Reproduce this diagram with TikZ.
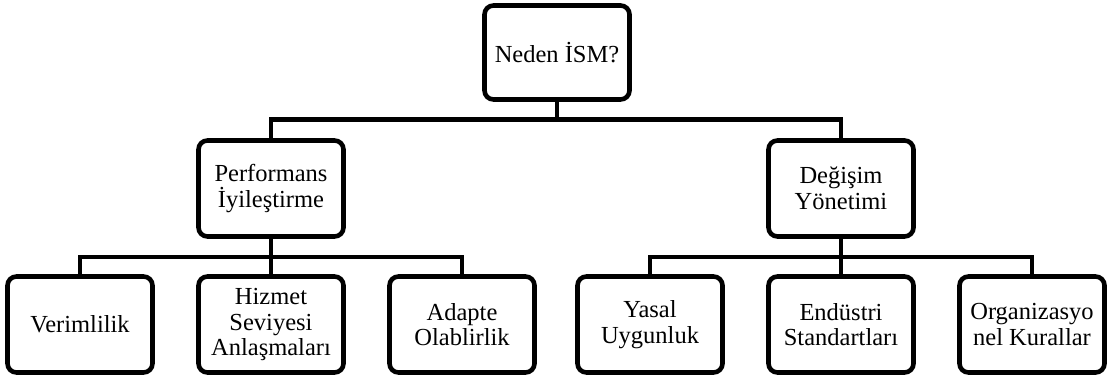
\documentclass[tikz,border=0pt]{standalone}
\usepackage{fontspec}
\setmainfont{Liberation Serif}
\begin{document}
\begin{tikzpicture}[x=1pt,y=-1pt,
  box/.style={draw, line width=4.6pt, rounded corners=9pt, fill=white,
    minimum width=145pt, minimum height=96pt, inner sep=1pt, align=center,
    font=\fontsize{24.5}{25.5}\selectfont},
  link/.style={line width=4.4pt}]
\useasboundingbox (0,0) rectangle (1113,379);

% root
\node[box, minimum height=94pt] (root) at (557,52.5) {Neden İSM?};

% second level
\node[box] (perf) at (271,188.5) {Performans\\İyileştirme};
\node[box] (deg)  at (841,188.5) {Değişim\\Yönetimi};

% third level
\node[box] (ver) at (80,324.5)  {Verimlilik};
\node[box] (hiz) at (271,324.5) {Hizmet\\Seviyesi\\Anlaşmaları};
\node[box] (ada) at (462,324.5) {Adapte\\Olablirlik};
\node[box] (yas) at (650,324.5) {Yasal\\Uygunluk};
\node[box] (end) at (841,324.5) {Endüstri\\Standartları};
\node[box] (org) at (1032,324.5) {Organizasyo\\nel Kurallar};

% junctions of the bus lines
\coordinate (j1) at (557,119.5);
\coordinate (j2) at (271,257);
\coordinate (j3) at (841,257);

% connectors
\draw[link] (root.south) -- (j1);
\draw[link] (perf.north) |- (j1) -| (deg.north);
\draw[link] (ver.north) |- (j2) -| (ada.north);
\draw[link] (perf.south) -- (hiz.north);
\draw[link] (yas.north) |- (j3) -| (org.north);
\draw[link] (deg.south) -- (end.north);
\end{tikzpicture}
\end{document}
